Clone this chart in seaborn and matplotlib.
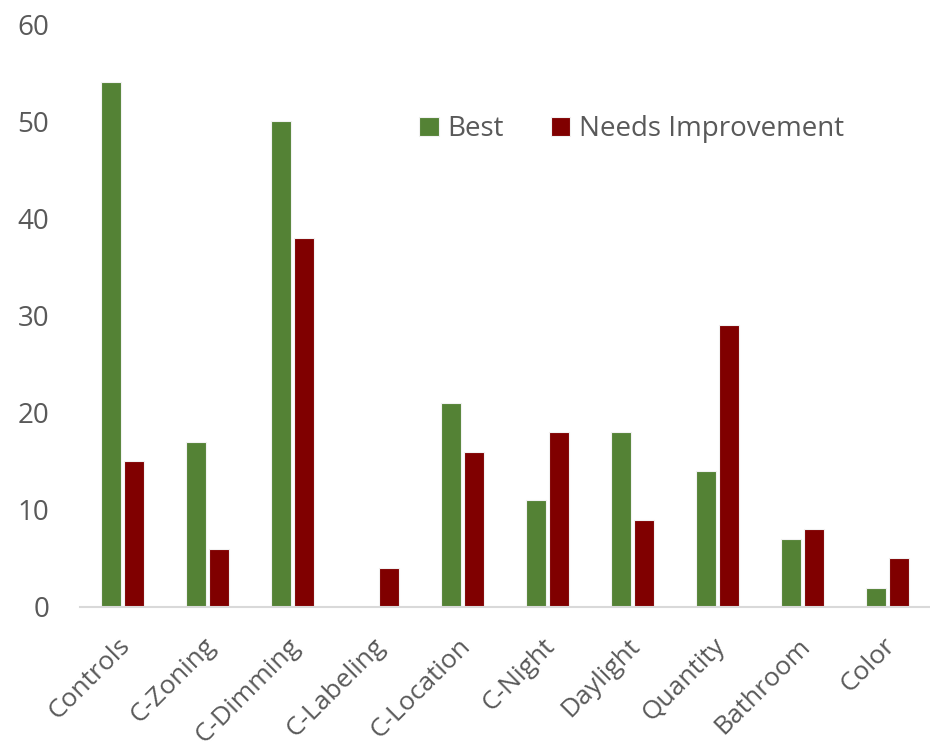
import pandas as pd
import matplotlib
matplotlib.use("Agg")
import matplotlib.pyplot as plt
import matplotlib.transforms as mtransforms
import seaborn as sns

# valores
categorias = ['Controls', 'C-Zoning', 'C-Dimming', 'C-Labeling', 'C-Location',
              'C-Night', 'Daylight', 'Quantity', 'Bathroom', 'Color']
best = [54, 17, 50, 0, 21, 11, 18, 14, 7, 2]
needs = [15, 6, 38, 4, 16, 18, 9, 29, 8, 5]
series = ['Best', 'Needs Improvement']
colores = ['#548235', '#800000']

def main():
    df = pd.DataFrame({
        'Categoria': categorias * 2,
        'Valor': best + needs,
        'Serie': [series[0]] * len(categorias) + [series[1]] * len(categorias),
    })

    sns.set_style('white')
    plt.rcParams['font.family'] = ['Open Sans', 'DejaVu Sans']
    gris = '#595959'

    fig = plt.figure(figsize=(9.3, 7.54), dpi=100)
    ax = fig.add_axes([0.086, 0.195, 0.914, 0.773])

    sns.barplot(data=df, x='Categoria', y='Valor', hue='Serie', palette=colores,
                saturation=1, width=0.53, gap=0.1, edgecolor='#F2F2F2', linewidth=0.8,
                order=categorias, hue_order=series, ax=ax)

    ax.set_ylim(0, 60)
    ax.set_xlim(-0.5, len(categorias) - 0.5)
    ax.set_yticks(range(0, 61, 10))
    ax.set_xlabel('')
    ax.set_ylabel('')
    sns.despine(ax=ax, left=True, top=True, right=True)
    ax.spines['bottom'].set_color('#D9D9D9')
    ax.spines['bottom'].set_linewidth(1.5)
    ax.tick_params(axis='y', length=0, labelsize=20, labelcolor=gris, pad=22)
    ax.tick_params(axis='x', length=0, labelsize=19, labelcolor=gris, pad=19)
    # etiquetas giradas, un poco a la izquierda
    desplazar = mtransforms.ScaledTranslation(-5 / 100, 0, fig.dpi_scale_trans)
    for lbl in ax.get_xticklabels():
        lbl.set_rotation(45)
        lbl.set_ha('right')
        lbl.set_rotation_mode('anchor')
        lbl.set_transform(lbl.get_transform() + desplazar)

    ax.legend(loc='center left', bbox_to_anchor=(0.37, 0.82), ncol=2, frameon=False,
              fontsize=20, labelcolor=gris, handlelength=0.7, handleheight=0.7,
              handletextpad=0.3, columnspacing=1.7)

    fig.savefig('out.png', dpi=100)

if __name__ == "__main__":
    main()
